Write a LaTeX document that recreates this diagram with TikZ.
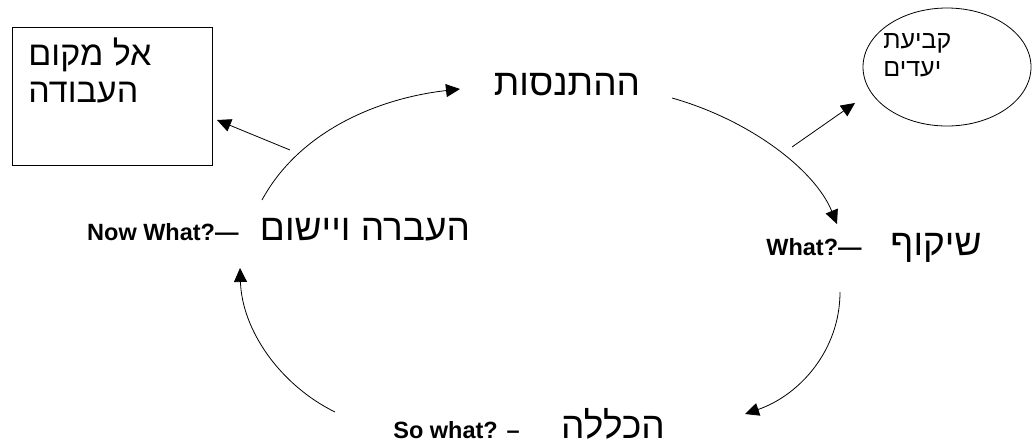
\documentclass[tikz,border=0pt]{standalone}
\usepackage{fontspec}
\setmainfont{Liberation Sans}
\newfontfamily\hebfont[Script=Hebrew]{Liberation Sans}
\TeXXeTstate=1
\usetikzlibrary{arrows.meta,positioning,shapes.geometric}

\begin{document}
\begin{tikzpicture}[x=1pt,y=-1pt,>={Triangle[length=14pt,width=13pt]},line width=0.8pt,
  heb/.style={font=\hebfont\fontsize{37}{40}\selectfont,inner sep=0pt,anchor=base},
  hebbox/.style={font=\hebfont\fontsize{34}{37}\selectfont,inner sep=0pt,align=left,anchor=north west},
  hebsmall/.style={font=\hebfont\fontsize{25}{28}\selectfont,inner sep=0pt,align=left,anchor=north west},
  eng/.style={font=\bfseries\fontsize{23.5}{26}\selectfont,inner sep=0pt,anchor=base east}]
\useasboundingbox (0,0) rectangle (1033,445);
% side shapes
\node[draw,minimum width=200pt,minimum height=138pt,anchor=north west] (work) at (12,27) {};
\node[hebbox] (worktxt) at (28,37) {\beginR אל מקום\endR\\\beginR העבודה\endR};
\node[draw,ellipse,minimum width=168pt,minimum height=118pt] (aims) at (947,67) {};
\node[hebsmall] (aimstxt) at (883,33) {\beginR קביעת\endR\\\beginR יעדים\endR};
% cycle stages
\node[heb] (exper) at (567,95) {\beginR ההתנסות\endR};
\node[heb] (reflect) at (936,255) {\beginR שיקוף\endR};
\node[eng] (what) at (862,255) {What?—};
\node[heb] (general) at (613,438) {\beginR הכללה\endR};
\node[eng] (sowhat) at (520,438) {So what? –};
\node[heb] (apply) at (365,240) {\beginR העברה ויישום\endR};
\node[eng] (nowhat) at (239,240) {Now What?—};
% arc ends
\coordinate (a1) at (262,200); \coordinate (b1) at (460,89);
\coordinate (a2) at (672,98);  \coordinate (b2) at (837,224);
\coordinate (a3) at (840,292); \coordinate (b3) at (745,414);
\coordinate (a4) at (335,412); \coordinate (b4) at (240,268);
\coordinate (w1) at (290,150); \coordinate (w2) at (217,120);
\coordinate (g1) at (792,147); \coordinate (g2) at (855,103);
\draw[->] (a1) .. controls (300,130) and (380,98) .. (b1);
\draw[->] (a2) .. controls (750,120) and (815,170) .. (b2);
\draw[->] (a3) .. controls (840,350) and (800,395) .. (b3);
\draw[->] (a4) .. controls (280,385) and (242,330) .. (b4);
\draw[->] (w1) -- (w2);
\draw[->] (g1) -- (g2);
\end{tikzpicture}
\end{document}
